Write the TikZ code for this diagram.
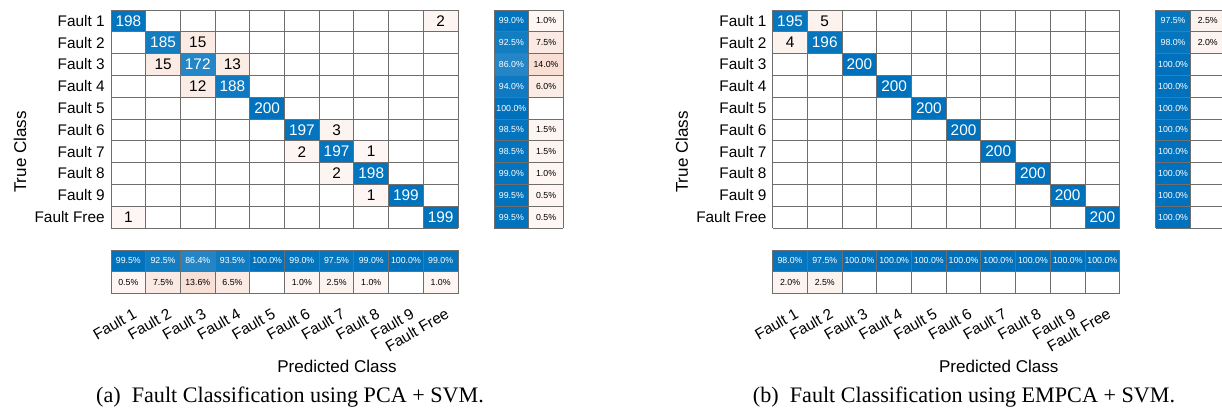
\documentclass[tikz,border=0pt]{standalone}
\usepackage{fontspec}
\setmainfont{Liberation Sans}
\newfontfamily\captionfont{Liberation Serif}
\usetikzlibrary{positioning}
\definecolor{hitblue}{RGB}{0,114,189}
\definecolor{missred}{RGB}{217,83,25}
\definecolor{gridgray}{RGB}{110,110,110}
\tikzstyle{count} = [font=\fontsize{8.75}{9}\selectfont, inner sep=0pt]
\tikzstyle{pct} = [font=\fontsize{5}{5.5}\selectfont, inner sep=0pt]
\tikzstyle{ticklabel} = [font=\fontsize{8.75}{9}\selectfont, inner sep=0pt]
\tikzstyle{axislabel} = [font=\fontsize{9.7}{10}\selectfont, inner sep=0pt]
\tikzstyle{caption} = [font=\captionfont\fontsize{12.6}{13}\selectfont, inner sep=0pt]
\tikzstyle{gridline} = [draw=gridgray, line width=0.5pt]
\def\cw{34.7}
\def\ch{21.8}

\begin{document}
\begin{tikzpicture}[x=0.02cm, y=-0.02cm]
    \useasboundingbox (0,0) rectangle (1222,409);

    % ---------------- (a) PCA + SVM ----------------
    \begin{scope}[shift={(111,10)}]
        % correct predictions
        \foreach \r/\c/\n/\s in {1/1/198/99, 2/2/185/92.5, 3/3/172/86, 4/4/188/94, 5/5/200/100,
                                 6/6/197/98.5, 7/7/197/98.5, 8/8/198/99, 9/9/199/99.5, 10/10/199/99.5} {
            \fill[hitblue!\s!white] ({(\c-1)*\cw},{(\r-1)*\ch}) rectangle ++(\cw,\ch);
            \node[count, text=white] (a-\r-\c) at ({(\c-0.5)*\cw},{(\r-0.5)*\ch}) {\n};
        }
        % misclassifications
        \foreach \r/\c/\n/\s in {1/10/2/6, 2/3/15/11.5, 3/2/15/11.5, 3/4/13/11, 4/3/12/11, 6/7/3/6.5,
                                 7/6/2/6, 7/8/1/5, 8/7/2/6, 9/8/1/5, 10/1/1/5} {
            \fill[missred!\s!white] ({(\c-1)*\cw},{(\r-1)*\ch}) rectangle ++(\cw,\ch);
            \node[count] (a-\r-\c) at ({(\c-0.5)*\cw},{(\r-0.5)*\ch}) {\n};
        }
        \foreach \k in {0,...,10} {
            \draw[gridline] ({\k*\cw},0) -- ({\k*\cw},{10*\ch});
            \draw[gridline] (0,{\k*\ch}) -- ({10*\cw},{\k*\ch});
        }

        % row summary
        \foreach \r/\p/\q/\s in {1/99.0/1.0/5.5, 2/92.5/7.5/12, 3/86.0/14.0/19, 4/94.0/6.0/11, 5/100.0//0,
                                 6/98.5/1.5/6, 7/98.5/1.5/6, 8/99.0/1.0/5.5, 9/99.5/0.5/5, 10/99.5/0.5/5} {
            \fill[hitblue!\p!white] (383,{(\r-1)*\ch}) rectangle ++(\cw,\ch);
            \fill[missred!\s!white] ({383+\cw},{(\r-1)*\ch}) rectangle ++(\cw,\ch);
            \node[pct, text=white] (a-tpr\r) at ({383+0.5*\cw},{(\r-0.5)*\ch}) {\p\%};
            \ifx\q\empty\else
                \node[pct] (a-fnr\r) at ({383+1.5*\cw},{(\r-0.5)*\ch}) {\q\%};
            \fi
        }
        \foreach \k in {0,1,2}
            \draw[gridline] ({383+\k*\cw},0) -- ({383+\k*\cw},{10*\ch});
        \foreach \k in {0,...,10}
            \draw[gridline] (383,{\k*\ch}) -- ({383+2*\cw},{\k*\ch});

        % column summary
        \foreach \c/\p/\q/\s in {1/99.5/0.5/5, 2/92.5/7.5/12, 3/86.4/13.6/18, 4/93.5/6.5/12, 5/100.0//0,
                                 6/99.0/1.0/5.5, 7/97.5/2.5/7, 8/99.0/1.0/5.5, 9/100.0//0, 10/99.0/1.0/5.5} {
            \fill[hitblue!\p!white] ({(\c-1)*\cw},240) rectangle ++(\cw,\ch);
            \fill[missred!\s!white] ({(\c-1)*\cw},{240+\ch}) rectangle ++(\cw,\ch);
            \node[pct, text=white] (a-ppv\c) at ({(\c-0.5)*\cw},{240+0.5*\ch}) {\p\%};
            \ifx\q\empty\else
                \node[pct] (a-fdr\c) at ({(\c-0.5)*\cw},{240+1.5*\ch}) {\q\%};
            \fi
        }
        \foreach \k in {0,...,10}
            \draw[gridline] ({\k*\cw},240) -- ({\k*\cw},{240+2*\ch});
        \foreach \k in {0,1,2}
            \draw[gridline] (0,{240+\k*\ch}) -- ({10*\cw},{240+\k*\ch});

        % tick labels
        \foreach \k/\t in {1/Fault 1, 2/Fault 2, 3/Fault 3, 4/Fault 4, 5/Fault 5,
                           6/Fault 6, 7/Fault 7, 8/Fault 8, 9/Fault 9, 10/Fault Free} {
            \node[ticklabel, anchor=east] (a-row\k) at (-6,{(\k-0.5)*\ch}) {\t};
            \node[ticklabel, anchor=north east, rotate=30] (a-col\k) at ({(\k-0.5)*\cw+4},297) {\t};
        }
        \node[axislabel, rotate=90] (a-ylab) at (-91,142) {True Class};
        \node[axislabel] (a-xlab) at (226,356) {Predicted Class};
    \end{scope}
    \node[caption] (cap-a) at (290,397) {(a)\enspace Fault Classification using PCA + SVM.};

    % ---------------- (b) EMPCA + SVM ----------------
    \begin{scope}[shift={(772.7,10)}]
        \foreach \r/\c/\n/\s in {1/1/195/97.5, 2/2/196/98, 3/3/200/100, 4/4/200/100, 5/5/200/100,
                                 6/6/200/100, 7/7/200/100, 8/8/200/100, 9/9/200/100, 10/10/200/100} {
            \fill[hitblue!\s!white] ({(\c-1)*\cw},{(\r-1)*\ch}) rectangle ++(\cw,\ch);
            \node[count, text=white] (b-\r-\c) at ({(\c-0.5)*\cw},{(\r-0.5)*\ch}) {\n};
        }
        \foreach \r/\c/\n/\s in {1/2/5/7.5, 2/1/4/7} {
            \fill[missred!\s!white] ({(\c-1)*\cw},{(\r-1)*\ch}) rectangle ++(\cw,\ch);
            \node[count] (b-\r-\c) at ({(\c-0.5)*\cw},{(\r-0.5)*\ch}) {\n};
        }
        \foreach \k in {0,...,10} {
            \draw[gridline] ({\k*\cw},0) -- ({\k*\cw},{10*\ch});
            \draw[gridline] (0,{\k*\ch}) -- ({10*\cw},{\k*\ch});
        }

        % row summary
        \foreach \r/\p/\q/\s in {1/97.5/2.5/7, 2/98.0/2.0/6.5, 3/100.0//0, 4/100.0//0, 5/100.0//0,
                                 6/100.0//0, 7/100.0//0, 8/100.0//0, 9/100.0//0, 10/100.0//0} {
            \fill[hitblue!\p!white] (383,{(\r-1)*\ch}) rectangle ++(\cw,\ch);
            \fill[missred!\s!white] ({383+\cw},{(\r-1)*\ch}) rectangle ++(\cw,\ch);
            \node[pct, text=white] (b-tpr\r) at ({383+0.5*\cw},{(\r-0.5)*\ch}) {\p\%};
            \ifx\q\empty\else
                \node[pct] (b-fnr\r) at ({383+1.5*\cw},{(\r-0.5)*\ch}) {\q\%};
            \fi
        }
        \foreach \k in {0,1,2}
            \draw[gridline] ({383+\k*\cw},0) -- ({383+\k*\cw},{10*\ch});
        \foreach \k in {0,...,10}
            \draw[gridline] (383,{\k*\ch}) -- ({383+2*\cw},{\k*\ch});

        % column summary
        \foreach \c/\p/\q/\s in {1/98.0/2.0/6.5, 2/97.5/2.5/7, 3/100.0//0, 4/100.0//0, 5/100.0//0,
                                 6/100.0//0, 7/100.0//0, 8/100.0//0, 9/100.0//0, 10/100.0//0} {
            \fill[hitblue!\p!white] ({(\c-1)*\cw},240) rectangle ++(\cw,\ch);
            \fill[missred!\s!white] ({(\c-1)*\cw},{240+\ch}) rectangle ++(\cw,\ch);
            \node[pct, text=white] (b-ppv\c) at ({(\c-0.5)*\cw},{240+0.5*\ch}) {\p\%};
            \ifx\q\empty\else
                \node[pct] (b-fdr\c) at ({(\c-0.5)*\cw},{240+1.5*\ch}) {\q\%};
            \fi
        }
        \foreach \k in {0,...,10}
            \draw[gridline] ({\k*\cw},240) -- ({\k*\cw},{240+2*\ch});
        \foreach \k in {0,1,2}
            \draw[gridline] (0,{240+\k*\ch}) -- ({10*\cw},{240+\k*\ch});

        \foreach \k/\t in {1/Fault 1, 2/Fault 2, 3/Fault 3, 4/Fault 4, 5/Fault 5,
                           6/Fault 6, 7/Fault 7, 8/Fault 8, 9/Fault 9, 10/Fault Free} {
            \node[ticklabel, anchor=east] (b-row\k) at (-6,{(\k-0.5)*\ch}) {\t};
            \node[ticklabel, anchor=north east, rotate=30] (b-col\k) at ({(\k-0.5)*\cw+4},297) {\t};
        }
        \node[axislabel, rotate=90] (b-ylab) at (-91,142) {True Class};
        \node[axislabel] (b-xlab) at (226,356) {Predicted Class};
    \end{scope}
    \node[caption] (cap-b) at (964,397) {(b)\enspace Fault Classification using EMPCA + SVM.};

\end{tikzpicture}
\end{document}
